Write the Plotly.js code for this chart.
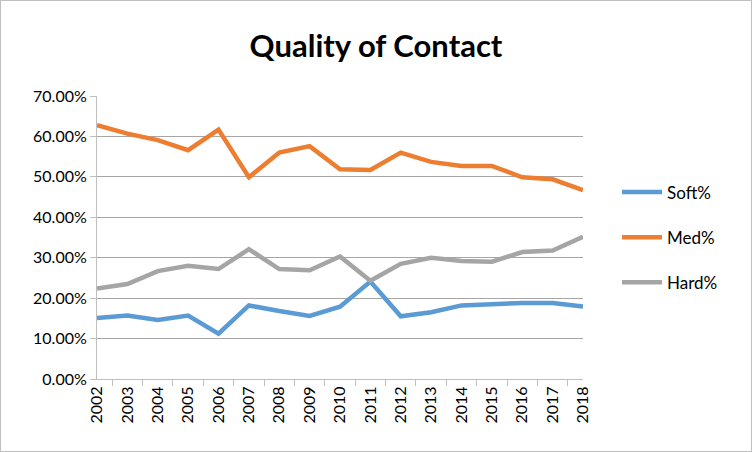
<!DOCTYPE html>
<html>
<head>
<meta charset="utf-8">
<script src="https://cdn.plot.ly/plotly-3.0.1.min.js"></script>
<style>
  body { margin: 0; background: #fff; }
  #chart { width: 750px; height: 450px; border: 1px solid #bfbfbf; }
</style>
</head>
<body>
<div id="chart"></div>
<script>
// seasons on the x axis
var years = ['2002', '2003', '2004', '2005', '2006', '2007', '2008', '2009', '2010',
             '2011', '2012', '2013', '2014', '2015', '2016', '2017', '2018'];

// contact quality shares, in percent
var softPct = [15.1, 15.7, 14.6, 15.7, 11.2, 18.2, 16.8, 15.6, 17.9,
               24.1, 15.5, 16.5, 18.2, 18.5, 18.8, 18.8, 17.9];
var medPct  = [62.8, 60.7, 59.1, 56.6, 61.7, 49.9, 56.0, 57.6, 51.9,
               51.7, 56.0, 53.7, 52.7, 52.7, 49.9, 49.4, 46.7];
var hardPct = [22.4, 23.5, 26.7, 28.0, 27.2, 32.1, 27.2, 26.9, 30.3,
               24.3, 28.5, 30.0, 29.2, 29.0, 31.4, 31.8, 35.2];

var seriesNames  = ['Soft%', 'Med%', 'Hard%'];
var seriesValues = [softPct, medPct, hardPct];
var seriesColours = ['#5b9bd5', '#ed7d31', '#a5a5a5'];

var yTicks = [0, 10, 20, 30, 40, 50, 60, 70];
var yTickText = yTicks.map(v => v.toFixed(2) + '%');

var data = [];
for (let i = 0; i < seriesNames.length; i++) {
    data.push({
        type: 'scatter',
        mode: 'lines',
        x: years,
        y: seriesValues[i],
        name: seriesNames[i],
        legendgroup: 'g' + i, // separate groups so tracegroupgap spaces the legend
        line: {
            color: seriesColours[i],
            width: 4.5
        },
        hoverinfo: 'skip'
    });
}

Plotly.newPlot('chart', data, {
    width: 750,
    height: 450,
    font: {
        family: 'Lato, "Open Sans", sans-serif',
        size: 16,
        color: '#000'
    },
    title: {
        text: '<b>Quality of Contact</b>',
        font: { size: 31, color: '#000' },
        x: 0.5,
        xanchor: 'center',
        y: 0.9,
        yanchor: 'middle'
    },
    margin: { l: 96, r: 168, t: 95, b: 72 },
    paper_bgcolor: '#fff',
    plot_bgcolor: '#fff',
    xaxis: {
        type: 'category',
        tickangle: -90,
        tickson: 'boundaries',
        ticks: 'outside',
        ticklen: 6,
        tickcolor: '#bfbfbf',
        showline: true,
        linecolor: '#bfbfbf',
        linewidth: 1,
        showgrid: false,
        zeroline: false,
        fixedrange: true
    },
    yaxis: {
        range: [0, 70],
        tickvals: yTicks,
        ticktext: yTickText,
        ticks: 'outside',
        ticklen: 6,
        tickcolor: '#bfbfbf',
        showline: true,
        linecolor: '#bfbfbf',
        linewidth: 1,
        showgrid: true,
        gridcolor: '#a6a6a6',
        gridwidth: 1,
        zeroline: false,
        fixedrange: true
    },
    showlegend: true,
    legend: {
        x: 1.07,
        xanchor: 'left',
        y: 0.5,
        yanchor: 'middle',
        traceorder: 'grouped',
        tracegroupgap: 20,
        font: { size: 17 },
        itemwidth: 40
    }
}, {
    displayModeBar: false,
    staticPlot: true
});
</script>
</body>
</html>
